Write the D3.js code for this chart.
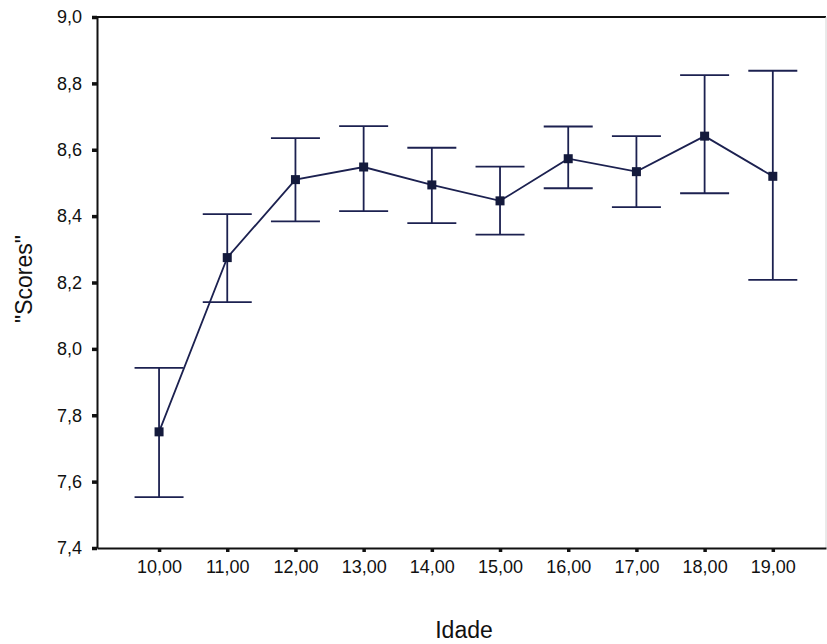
<!DOCTYPE html>
<html>
<head>
<meta charset="utf-8">
<script src="https://cdn.jsdelivr.net/npm/d3@7"></script>
<style>
  body { margin: 0; background: #fff; }
  text { font-family: "Liberation Sans", Arial, sans-serif; }
</style>
</head>
<body>
<svg id="chart"></svg>
<script>
// ages (x categories) and the mean score with its error bar limits
const ages = [10, 11, 12, 13, 14, 15, 16, 17, 18, 19];
const means = [7.75, 8.275, 8.51, 8.548, 8.494, 8.446, 8.573, 8.534, 8.641, 8.52];
const upper = [7.943, 8.406, 8.635, 8.671, 8.606, 8.549, 8.67, 8.641, 8.825, 8.838];
const lower = [7.553, 8.141, 8.384, 8.415, 8.379, 8.344, 8.484, 8.427, 8.469, 8.208];
const yTicks = [7.4, 7.6, 7.8, 8.0, 8.2, 8.4, 8.6, 8.8, 9.0];

const width = 827, height = 644;
const margin = {top: 17, right: 1, bottom: 96, left: 97};
const innerW = width - margin.left - margin.right;
const innerH = height - margin.top - margin.bottom;
const ink = '#1c2150';

const data = ages.map((a, i) => ({age: a, mean: means[i], hi: upper[i], lo: lower[i]}));

const svg = d3.select('#chart')
    .attr('width', width)
    .attr('height', height);

const chart = svg.append('g')
    .attr('transform', `translate(${margin.left}, ${margin.top})`);

const xscale = d3.scaleLinear()
    .domain([9.09, 19.78])
    .range([0, innerW]);

const yscale = d3.scaleLinear()
    .domain([7.4, 9.0])
    .range([innerH, 0]);

const comma = v => v.toFixed(1).replace('.', ',');

// frame: top and faint right edge
chart.append('line')
    .attr('x1', 0).attr('x2', innerW)
    .attr('y1', 0).attr('y2', 0)
    .attr('stroke', '#111').attr('stroke-width', 1.8);
chart.append('line')
    .attr('x1', innerW).attr('x2', innerW)
    .attr('y1', 0).attr('y2', innerH)
    .attr('stroke', '#d4d4d4').attr('stroke-width', 1);

// y axis
const yaxis = d3.axisLeft(yscale)
    .tickValues(yTicks)
    .tickFormat(comma)
    .tickSize(5)
    .tickPadding(10)
    .tickSizeOuter(0);

const yg = chart.append('g').call(yaxis);
yg.select('.domain').attr('stroke', '#111').attr('stroke-width', 2);
yg.selectAll('.tick line').attr('stroke', '#111').attr('stroke-width', 3.5);
yg.selectAll('.tick text').attr('font-size', 18).attr('fill', '#111');

// x axis
const xaxis = d3.axisBottom(xscale)
    .tickValues(ages)
    .tickFormat(d => d.toFixed(2).replace('.', ','))
    .tickSize(4)
    .tickPadding(8)
    .tickSizeOuter(0);

const xg = chart.append('g')
    .attr('transform', `translate(0, ${innerH})`)
    .call(xaxis);
xg.select('.domain').attr('stroke', '#111').attr('stroke-width', 1.8);
xg.selectAll('.tick line').attr('stroke', '#111').attr('stroke-width', 3.5);
xg.selectAll('.tick text').attr('font-size', 18).attr('fill', '#111');

// error bars
const capHalf = 24.5;
const bars = chart.append('g')
    .attr('stroke', ink)
    .attr('stroke-width', 1.8)
    .selectAll('g')
    .data(data)
    .join('g');

bars.append('line')
    .attr('x1', d => xscale(d.age)).attr('x2', d => xscale(d.age))
    .attr('y1', d => yscale(d.hi)).attr('y2', d => yscale(d.lo));
bars.append('line')
    .attr('x1', d => xscale(d.age) - capHalf).attr('x2', d => xscale(d.age) + capHalf)
    .attr('y1', d => yscale(d.hi)).attr('y2', d => yscale(d.hi));
bars.append('line')
    .attr('x1', d => xscale(d.age) - capHalf).attr('x2', d => xscale(d.age) + capHalf)
    .attr('y1', d => yscale(d.lo)).attr('y2', d => yscale(d.lo));

// mean line
const line = d3.line()
    .x(d => xscale(d.age))
    .y(d => yscale(d.mean));

chart.append('path')
    .attr('d', line(data))
    .attr('fill', 'none')
    .attr('stroke', ink)
    .attr('stroke-width', 1.8);

// square markers
const ms = 9;
chart.selectAll('rect.marker')
    .data(data)
    .join('rect')
    .attr('class', 'marker')
    .attr('x', d => xscale(d.age) - ms / 2)
    .attr('y', d => yscale(d.mean) - ms / 2)
    .attr('width', ms)
    .attr('height', ms)
    .attr('fill', '#141a3c');

// axis titles
svg.append('text')
    .attr('x', 464)
    .attr('y', 638)
    .attr('text-anchor', 'middle')
    .attr('font-size', 23)
    .attr('fill', '#111')
    .text('Idade');

svg.append('text')
    .attr('transform', 'translate(32, 279) rotate(-90)')
    .attr('text-anchor', 'middle')
    .attr('font-size', 23)
    .attr('fill', '#111')
    .text('"Scores"');
</script>
</body>
</html>
